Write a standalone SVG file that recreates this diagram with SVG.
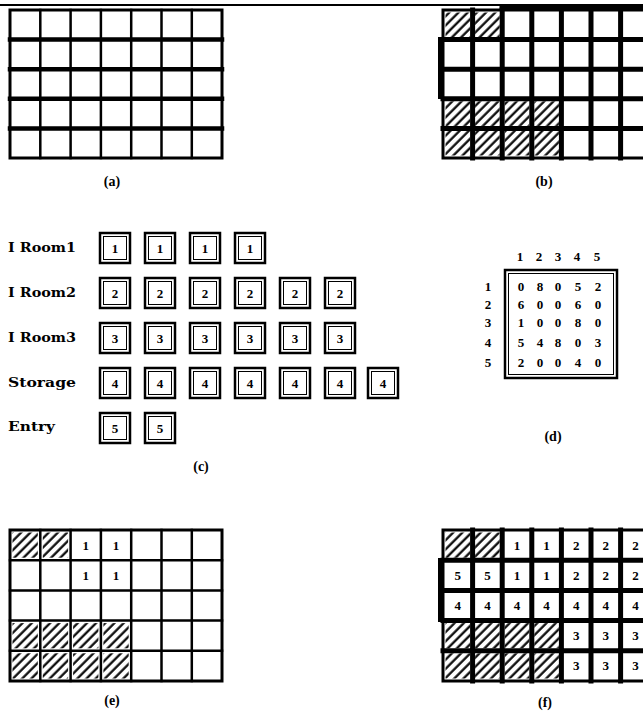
<svg xmlns="http://www.w3.org/2000/svg" width="643" height="714" viewBox="0 0 643 714">
<defs>
<pattern id="hatch" patternUnits="userSpaceOnUse" width="6.5" height="6.5" patternTransform="rotate(45)">
<line x1="1.5" y1="0" x2="1.5" y2="6.5" stroke="#000" stroke-width="2.2"/>
</pattern>
</defs>
<style>
.g{fill:none;stroke:#000;stroke-linecap:square}
.thin{stroke-width:2.5}
.med{stroke-width:3}
.thick{stroke-width:5}
.h{fill:url(#hatch)}
.t{font-family:"Liberation Serif",serif;font-weight:bold;font-size:13px;fill:#000;text-anchor:middle}
.lbl{font-family:"DejaVu Serif",serif;font-weight:bold;font-size:12px;fill:#000}
.cap{font-family:"Liberation Serif",serif;font-weight:bold;font-size:14px;fill:#000;text-anchor:middle}
.bo{fill:#fff;stroke:#000;stroke-width:2.5}
.bi{fill:none;stroke:#000;stroke-width:1}
</style>
<rect width="643" height="714" fill="#fff"/>
<line x1="0" y1="5" x2="643" y2="5" stroke="#000" stroke-width="2"/>

<!-- (a) -->
<g id="panel-a">
<path class="g thin" d="M40.3 10V158M70.6 10V158M100.9 10V158M131.2 10V158M161.5 10V158M191.8 10V158"/>
<path class="g" stroke-width="4.5" d="M10 39.6H222M10 69.2H222M10 98.8H222M10 128.4H222"/>
<rect class="g med" x="10" y="10" width="212" height="148"/>
<text class="cap" x="112" y="186">(a)</text>
</g>

<!-- (b) -->
<g id="panel-b">
<rect class="h" x="445.5" y="12.5" width="24.6" height="24.6"/>
<rect class="h" x="475.1" y="12.5" width="24.6" height="24.6"/>
<rect class="h" x="445.5" y="101.3" width="24.6" height="24.6"/>
<rect class="h" x="475.1" y="101.3" width="24.6" height="24.6"/>
<rect class="h" x="504.7" y="101.3" width="24.6" height="24.6"/>
<rect class="h" x="534.3" y="101.3" width="24.6" height="24.6"/>
<rect class="h" x="445.5" y="130.9" width="24.6" height="24.6"/>
<rect class="h" x="475.1" y="130.9" width="24.6" height="24.6"/>
<rect class="h" x="504.7" y="130.9" width="24.6" height="24.6"/>
<rect class="h" x="534.3" y="130.9" width="24.6" height="24.6"/>
<path class="g thick" d="M472.6 10V158M502.2 10V158M531.8 10V158M561.4 10V158M591 10V158M620.6 10V158M443 39.6H650M443 69.2H650M443 98.8H650M443 128.4H650"/>
<path class="g med" d="M443 10V158M443 10H650M443 158H650"/>
<path class="g" stroke-width="5" d="M502 8.5H650"/>
<rect x="438" y="37" width="5" height="62" fill="#000"/>
<text class="cap" x="544" y="186">(b)</text>
</g>

<!-- (c) -->
<g id="panel-c">
<text class="lbl" x="8" y="252" textLength="68" lengthAdjust="spacingAndGlyphs">I Room1</text>
<text class="lbl" x="8" y="297" textLength="68" lengthAdjust="spacingAndGlyphs">I Room2</text>
<text class="lbl" x="8" y="342" textLength="68" lengthAdjust="spacingAndGlyphs">I Room3</text>
<text class="lbl" x="8" y="387" textLength="68" lengthAdjust="spacingAndGlyphs">Storage</text>
<text class="lbl" x="8" y="431" textLength="47" lengthAdjust="spacingAndGlyphs">Entry</text>
<g id="c-row1">
<rect class="bo" x="100" y="233" width="30" height="30"/><rect class="bi" x="103.5" y="236.5" width="23" height="23"/><text class="t" x="115" y="252.5">1</text>
<rect class="bo" x="145" y="233" width="30" height="30"/><rect class="bi" x="148.5" y="236.5" width="23" height="23"/><text class="t" x="160" y="252.5">1</text>
<rect class="bo" x="190" y="233" width="30" height="30"/><rect class="bi" x="193.5" y="236.5" width="23" height="23"/><text class="t" x="205" y="252.5">1</text>
<rect class="bo" x="235" y="233" width="30" height="30"/><rect class="bi" x="238.5" y="236.5" width="23" height="23"/><text class="t" x="250" y="252.5">1</text>
</g>
<g id="c-row2">
<rect class="bo" x="100" y="278" width="30" height="30"/><rect class="bi" x="103.5" y="281.5" width="23" height="23"/><text class="t" x="115" y="297.5">2</text>
<rect class="bo" x="145" y="278" width="30" height="30"/><rect class="bi" x="148.5" y="281.5" width="23" height="23"/><text class="t" x="160" y="297.5">2</text>
<rect class="bo" x="190" y="278" width="30" height="30"/><rect class="bi" x="193.5" y="281.5" width="23" height="23"/><text class="t" x="205" y="297.5">2</text>
<rect class="bo" x="235" y="278" width="30" height="30"/><rect class="bi" x="238.5" y="281.5" width="23" height="23"/><text class="t" x="250" y="297.5">2</text>
<rect class="bo" x="280" y="278" width="30" height="30"/><rect class="bi" x="283.5" y="281.5" width="23" height="23"/><text class="t" x="295" y="297.5">2</text>
<rect class="bo" x="325" y="278" width="30" height="30"/><rect class="bi" x="328.5" y="281.5" width="23" height="23"/><text class="t" x="340" y="297.5">2</text>
</g>
<g id="c-row3">
<rect class="bo" x="100" y="323" width="30" height="30"/><rect class="bi" x="103.5" y="326.5" width="23" height="23"/><text class="t" x="115" y="342.5">3</text>
<rect class="bo" x="145" y="323" width="30" height="30"/><rect class="bi" x="148.5" y="326.5" width="23" height="23"/><text class="t" x="160" y="342.5">3</text>
<rect class="bo" x="190" y="323" width="30" height="30"/><rect class="bi" x="193.5" y="326.5" width="23" height="23"/><text class="t" x="205" y="342.5">3</text>
<rect class="bo" x="235" y="323" width="30" height="30"/><rect class="bi" x="238.5" y="326.5" width="23" height="23"/><text class="t" x="250" y="342.5">3</text>
<rect class="bo" x="280" y="323" width="30" height="30"/><rect class="bi" x="283.5" y="326.5" width="23" height="23"/><text class="t" x="295" y="342.5">3</text>
<rect class="bo" x="325" y="323" width="30" height="30"/><rect class="bi" x="328.5" y="326.5" width="23" height="23"/><text class="t" x="340" y="342.5">3</text>
</g>
<g id="c-row4">
<rect class="bo" x="100" y="368" width="30" height="30"/><rect class="bi" x="103.5" y="371.5" width="23" height="23"/><text class="t" x="115" y="387.5">4</text>
<rect class="bo" x="145" y="368" width="30" height="30"/><rect class="bi" x="148.5" y="371.5" width="23" height="23"/><text class="t" x="160" y="387.5">4</text>
<rect class="bo" x="190" y="368" width="30" height="30"/><rect class="bi" x="193.5" y="371.5" width="23" height="23"/><text class="t" x="205" y="387.5">4</text>
<rect class="bo" x="235" y="368" width="30" height="30"/><rect class="bi" x="238.5" y="371.5" width="23" height="23"/><text class="t" x="250" y="387.5">4</text>
<rect class="bo" x="280" y="368" width="30" height="30"/><rect class="bi" x="283.5" y="371.5" width="23" height="23"/><text class="t" x="295" y="387.5">4</text>
<rect class="bo" x="325" y="368" width="30" height="30"/><rect class="bi" x="328.5" y="371.5" width="23" height="23"/><text class="t" x="340" y="387.5">4</text>
<rect class="bo" x="368" y="368" width="30" height="30"/><rect class="bi" x="371.5" y="371.5" width="23" height="23"/><text class="t" x="383" y="387.5">4</text>
</g>
<g id="c-row5">
<rect class="bo" x="100" y="413" width="30" height="30"/><rect class="bi" x="103.5" y="416.5" width="23" height="23"/><text class="t" x="115" y="432.5">5</text>
<rect class="bo" x="145" y="413" width="30" height="30"/><rect class="bi" x="148.5" y="416.5" width="23" height="23"/><text class="t" x="160" y="432.5">5</text>
</g>
<text class="cap" x="201" y="471">(c)</text>
</g>

<!-- (d) -->
<g id="panel-d">
<g class="t">
<text x="520" y="261">1</text><text x="539" y="261">2</text><text x="558" y="261">3</text><text x="577" y="261">4</text><text x="597" y="261">5</text>
<text x="488" y="291">1</text><text x="488" y="309">2</text><text x="488" y="327">3</text><text x="488" y="347">4</text><text x="488" y="367">5</text>
<text x="521" y="291">0</text><text x="540" y="291">8</text><text x="558" y="291">0</text><text x="578" y="291">5</text><text x="598" y="291">2</text>
<text x="521" y="309">6</text><text x="540" y="309">0</text><text x="558" y="309">0</text><text x="578" y="309">6</text><text x="598" y="309">0</text>
<text x="521" y="327">1</text><text x="540" y="327">0</text><text x="558" y="327">0</text><text x="578" y="327">8</text><text x="598" y="327">0</text>
<text x="521" y="347">5</text><text x="540" y="347">4</text><text x="558" y="347">8</text><text x="578" y="347">0</text><text x="598" y="347">3</text>
<text x="521" y="367">2</text><text x="540" y="367">0</text><text x="558" y="367">0</text><text x="578" y="367">4</text><text x="598" y="367">0</text>
</g>
<rect x="505" y="270" width="112" height="108" fill="none" stroke="#000" stroke-width="2.5"/>
<rect x="508.5" y="273.5" width="105" height="101" fill="none" stroke="#000" stroke-width="1"/>
<text class="cap" x="553" y="441">(d)</text>
</g>

<!-- (e) -->
<g id="panel-e">
<rect class="h" x="12.5" y="532.5" width="25.3" height="25.2"/>
<rect class="h" x="42.8" y="532.5" width="25.3" height="25.2"/>
<rect class="h" x="12.5" y="623.1" width="25.3" height="25.2"/>
<rect class="h" x="42.8" y="623.1" width="25.3" height="25.2"/>
<rect class="h" x="73.1" y="623.1" width="25.3" height="25.2"/>
<rect class="h" x="103.4" y="623.1" width="25.3" height="25.2"/>
<rect class="h" x="12.5" y="653.3" width="25.3" height="25.2"/>
<rect class="h" x="42.8" y="653.3" width="25.3" height="25.2"/>
<rect class="h" x="73.1" y="653.3" width="25.3" height="25.2"/>
<rect class="h" x="103.4" y="653.3" width="25.3" height="25.2"/>
<path class="g thin" d="M40.3 530V681M70.6 530V681M100.9 530V681M131.2 530V681M161.5 530V681M191.8 530V681M10 560.2H222M10 590.4H222M10 620.6H222M10 650.8H222"/>
<rect class="g med" x="10" y="530" width="212" height="151"/>
<g class="t"><text x="85.8" y="549.5">1</text><text x="116" y="549.5">1</text><text x="85.8" y="579.5">1</text><text x="116" y="579.5">1</text></g>
<text class="cap" x="112" y="705">(e)</text>
</g>

<!-- (f) -->
<g id="panel-f">
<rect class="h" x="445.5" y="532.5" width="24.6" height="25.2"/>
<rect class="h" x="475.1" y="532.5" width="24.6" height="25.2"/>
<rect class="h" x="445.5" y="623.1" width="24.6" height="25.2"/>
<rect class="h" x="475.1" y="623.1" width="24.6" height="25.2"/>
<rect class="h" x="504.7" y="623.1" width="24.6" height="25.2"/>
<rect class="h" x="534.3" y="623.1" width="24.6" height="25.2"/>
<rect class="h" x="445.5" y="653.3" width="24.6" height="25.2"/>
<rect class="h" x="475.1" y="653.3" width="24.6" height="25.2"/>
<rect class="h" x="504.7" y="653.3" width="24.6" height="25.2"/>
<rect class="h" x="534.3" y="653.3" width="24.6" height="25.2"/>
<path class="g thick" d="M472.6 530V681M502.2 530V681M531.8 530V681M561.4 530V681M591 530V681M620.6 530V681M443 560.2H650M443 590.4H650M443 620.6H650M443 650.8H650"/>
<path class="g med" d="M443 530V681M443 530H650M443 681H650"/>
<rect x="438" y="558" width="5" height="64" fill="#000"/>
<g class="t">
<text x="517" y="549.5">1</text><text x="546.6" y="549.5">1</text><text x="576.2" y="549.5">2</text><text x="605.8" y="549.5">2</text><text x="635.4" y="549.5">2</text>
<text x="457.8" y="579.5">5</text><text x="487.4" y="579.5">5</text><text x="517" y="579.5">1</text><text x="546.6" y="579.5">1</text><text x="576.2" y="579.5">2</text><text x="605.8" y="579.5">2</text><text x="635.4" y="579.5">2</text>
<text x="457.8" y="610">4</text><text x="487.4" y="610">4</text><text x="517" y="610">4</text><text x="546.6" y="610">4</text><text x="576.2" y="610">4</text><text x="605.8" y="610">4</text><text x="635.4" y="610">4</text>
<text x="576.2" y="640">3</text><text x="605.8" y="640">3</text><text x="635.4" y="640">3</text>
<text x="576.2" y="670">3</text><text x="605.8" y="670">3</text><text x="635.4" y="670">3</text>
</g>
<text class="cap" x="545" y="707">(f)</text>
</g>
</svg>
